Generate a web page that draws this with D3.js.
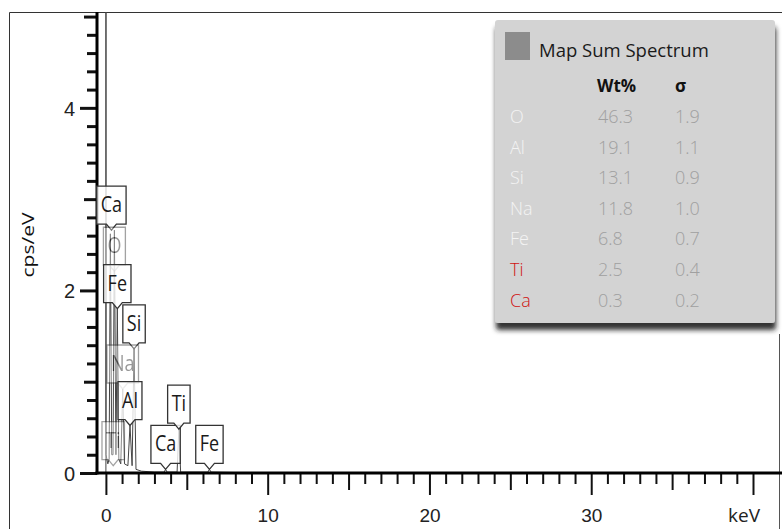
<!DOCTYPE html>
<html>
<head>
<meta charset="utf-8">
<script src="https://cdn.jsdelivr.net/npm/d3@7"></script>
<style>
  body { margin: 0; background: #fff; }
  svg { display: block; font-family: "Open Sans", "Noto Sans", sans-serif; }
</style>
</head>
<body>
<svg id="chart" width="782" height="529"></svg>
<script>
// EDS spectrum: energy (keV) vs intensity (cps/eV)
const specEnergy = [0, 0.004, 0.008, 0.12, 0.2, 0.277, 0.36, 0.44, 0.525, 0.62, 0.705, 0.80, 0.92, 1.04, 1.15, 1.36, 1.49, 1.62, 1.74, 1.86, 2.2, 3.0, 3.6, 3.69, 3.78, 4.40, 4.51, 4.62, 6.30, 6.40, 6.50, 8.0, 15.0, 40.0];
const specCounts = [0, 40, 0.2, 0.1, 0.15, 2.62, 0.2, 0.2, 2.66, 0.2, 1.80, 0.15, 0.1, 0.92, 0.1, 0.08, 0.52, 0.08, 1.36, 0.04, 0.02, 0.01, 0.01, 0.04, 0.01, 0.01, 0.48, 0.01, 0.01, 0.04, 0.01, 0.005, 0.002, 0];

// Peak identification labels
const peakNames  = ["Ca", "O", "Fe", "Si", "Na", "Al", "Ti", "Ca", "Ti", "Fe"];
const peakEnergy = [0.341, 0.525, 0.705, 1.74, 1.04, 1.49, 0.452, 3.69, 4.51, 6.40];
const peakTip    = [2.66, 2.21, 1.80, 1.36, 0.92, 0.52, 0.08, 0.04, 0.48, 0.04];
const dimmedPeaks = [1, 4, 6];

// Quantification table
const elements = ["O", "Al", "Si", "Na", "Fe", "Ti", "Ca"];
const wtPercent = ["46.3", "19.1", "13.1", "11.8", "6.8", "2.5", "0.3"];
const sigma = ["1.9", "1.1", "0.9", "1.0", "0.7", "0.4", "0.2"];
const flaggedElements = ["Ti", "Ca"];

// Axis ticks
const xTickLabels = ["0", "10", "20", "30"];
const yTickLabels = ["0", "2", "4"];

const svg = d3.select("#chart");
const plotL = 97, plotR = 782, plotT = 12, plotB = 473;

const x = d3.scaleLinear().domain([-0.55, 40]).range([plotL, 753]);
const y = d3.scaleLinear().domain([0, 5.05]).range([plotB, plotT]);

// outer frame
svg.append("path")
  .attr("d", `M9.5,529 V12.5 H782`)
  .attr("fill", "none").attr("stroke", "#333").attr("stroke-width", 1);
svg.append("line")
  .attr("x1", 779.5).attr("x2", 779.5).attr("y1", 334).attr("y2", 529)
  .attr("stroke", "#555").attr("stroke-width", 1);

const defs = svg.append("defs");
defs.append("clipPath").attr("id", "plotClip")
  .append("rect").attr("x", plotL + 2).attr("y", plotT).attr("width", plotR - plotL).attr("height", plotB - plotT);
const sh = defs.append("filter").attr("id", "shadow")
  .attr("x", "-10%").attr("y", "-10%").attr("width", "125%").attr("height", "125%");
sh.append("feDropShadow").attr("dx", 1).attr("dy", 7).attr("stdDeviation", 2.5)
  .attr("flood-color", "#1a1a1a").attr("flood-opacity", 0.9);

// spectrum trace
const pts = specEnergy.map((e, i) => [e, specCounts[i]]);
svg.append("g").attr("clip-path", "url(#plotClip)")
  .append("path")
  .datum(pts)
  .attr("d", d3.line().x(d => x(d[0])).y(d => y(d[1])))
  .attr("fill", "none")
  .attr("stroke", "#444")
  .attr("stroke-width", 1);

// Y axis
const yTicks = d3.range(0, 26).map(i => i * 0.2);
const yAxis = d3.axisLeft(y)
  .tickValues(yTicks)
  .tickSize(10)
  .tickFormat(() => "");
const gy = svg.append("g").attr("transform", `translate(${plotL},0)`).call(yAxis);
gy.select(".domain").remove();
gy.selectAll(".tick line")
  .attr("stroke", "#111").attr("stroke-width", 3)
  .attr("x2", (d) => {
    const k = Math.round(d * 5);
    if (k % 10 === 0) return -17;
    if (k % 5 === 0) return -13;
    return -10;
  });
gy.selectAll(".tick")
  .filter(d => yTickLabels.includes(String(Math.round(d * 10) / 10)))
  .append("text")
  .attr("x", -22).attr("dy", "0.36em")
  .attr("text-anchor", "end")
  .attr("fill", "#222")
  .style("font-size", "20px")
  .text(d => String(Math.round(d * 10) / 10));
svg.append("line")
  .attr("x1", plotL).attr("x2", plotL).attr("y1", plotT).attr("y2", plotB + 1.5)
  .attr("stroke", "#000").attr("stroke-width", 3);

// X axis
const xTicks = d3.range(0, 41);
const xAxis = d3.axisBottom(x).tickValues(xTicks).tickSize(11).tickFormat(() => "");
const gx = svg.append("g").attr("transform", `translate(0,${plotB})`).call(xAxis);
gx.select(".domain").remove();
gx.selectAll(".tick line")
  .attr("stroke", "#111").attr("stroke-width", 2)
  .attr("y2", d => d % 10 === 0 ? 22 : (d % 5 === 0 ? 17 : 11));
gx.selectAll(".tick")
  .filter(d => xTickLabels.includes(String(d)))
  .append("text")
  .attr("y", 49)
  .attr("text-anchor", "middle")
  .attr("fill", "#222")
  .style("font-size", "19px")
  .text(d => String(d));
svg.append("text")
  .attr("x", 760).attr("y", plotB + 49)
  .attr("text-anchor", "end")
  .attr("fill", "#222")
  .style("font-size", "19px")
  .text("keV");
svg.append("line")
  .attr("x1", plotL - 1.5).attr("x2", plotR).attr("y1", plotB).attr("y2", plotB)
  .attr("stroke", "#000").attr("stroke-width", 3);

// Y axis title
svg.append("text")
  .attr("transform", `translate(34,245) rotate(-90) scale(1.4,1.05)`)
  .attr("text-anchor", "middle")
  .attr("fill", "#111")
  .style("font-size", "15px")
  .text("cps/eV");

// peak labels (callouts pointing at each line)
const labels = svg.append("g");
peakNames.forEach((name, i) => {
  const g = labels.append("g")
    .attr("transform", `translate(${x(peakEnergy[i])},${y(peakTip[i])})`)
    .attr("opacity", dimmedPeaks.includes(i) ? 0.45 : 1);
  const t = g.append("text")
    .attr("text-anchor", "middle")
    .attr("fill", "#1a1a1a")
    .style("font-size", "18px")
    .attr("transform", "translate(0,-18) scale(1,1.22)")
    .text(name);
  const w = t.node().getComputedTextLength() + 8;
  const h = 38, p = 6;
  const hw = w / 2;
  g.insert("path", "text")
    .attr("d", `M0,0 L-5,${-p} L${-hw},${-p} L${-hw},${-p - h} L${hw},${-p - h} L${hw},${-p} L5,${-p} Z`)
    .attr("fill", "#fff").attr("fill-opacity", 0.8)
    .attr("stroke", "#333").attr("stroke-width", 1.3);
});

// legend / quantification panel
const panel = svg.append("g");
panel.append("rect")
  .attr("x", 495).attr("y", 20).attr("width", 280).attr("height", 303)
  .attr("rx", 3)
  .attr("fill", "#d3d3d3")
  .attr("filter", "url(#shadow)");
panel.append("rect")
  .attr("x", 505).attr("y", 32).attr("width", 25).attr("height", 28)
  .attr("fill", "#8c8c8c");
panel.append("text")
  .attr("x", 539).attr("y", 57)
  .attr("fill", "#1a1a1a")
  .style("font-size", "18.5px")
  .text("Map Sum Spectrum");
panel.append("text")
  .attr("x", 597).attr("y", 92)
  .attr("fill", "#111").attr("font-weight", "bold")
  .style("font-size", "17px")
  .text("Wt%");
panel.append("text")
  .attr("x", 675).attr("y", 92)
  .attr("fill", "#111").attr("font-weight", "bold")
  .style("font-size", "17px")
  .text("σ");
const rows = panel.selectAll("g.row").data(elements).join("g")
  .attr("class", "row")
  .attr("transform", (d, i) => `translate(0,${123 + i * 30.6})`);
rows.append("text")
  .attr("x", 510)
  .attr("fill", d => flaggedElements.includes(d) ? "#d01414" : "#f4f4f4")
  .attr("font-weight", 300)
  .style("font-size", "18px")
  .text(d => d);
rows.append("text")
  .attr("x", 598)
  .attr("fill", "#a0a0a0")
  .attr("font-weight", 300)
  .style("font-size", "18px")
  .text((d, i) => wtPercent[i]);
rows.append("text")
  .attr("x", 675)
  .attr("fill", "#a0a0a0")
  .attr("font-weight", 300)
  .style("font-size", "18px")
  .text((d, i) => sigma[i]);
</script>
</body>
</html>
